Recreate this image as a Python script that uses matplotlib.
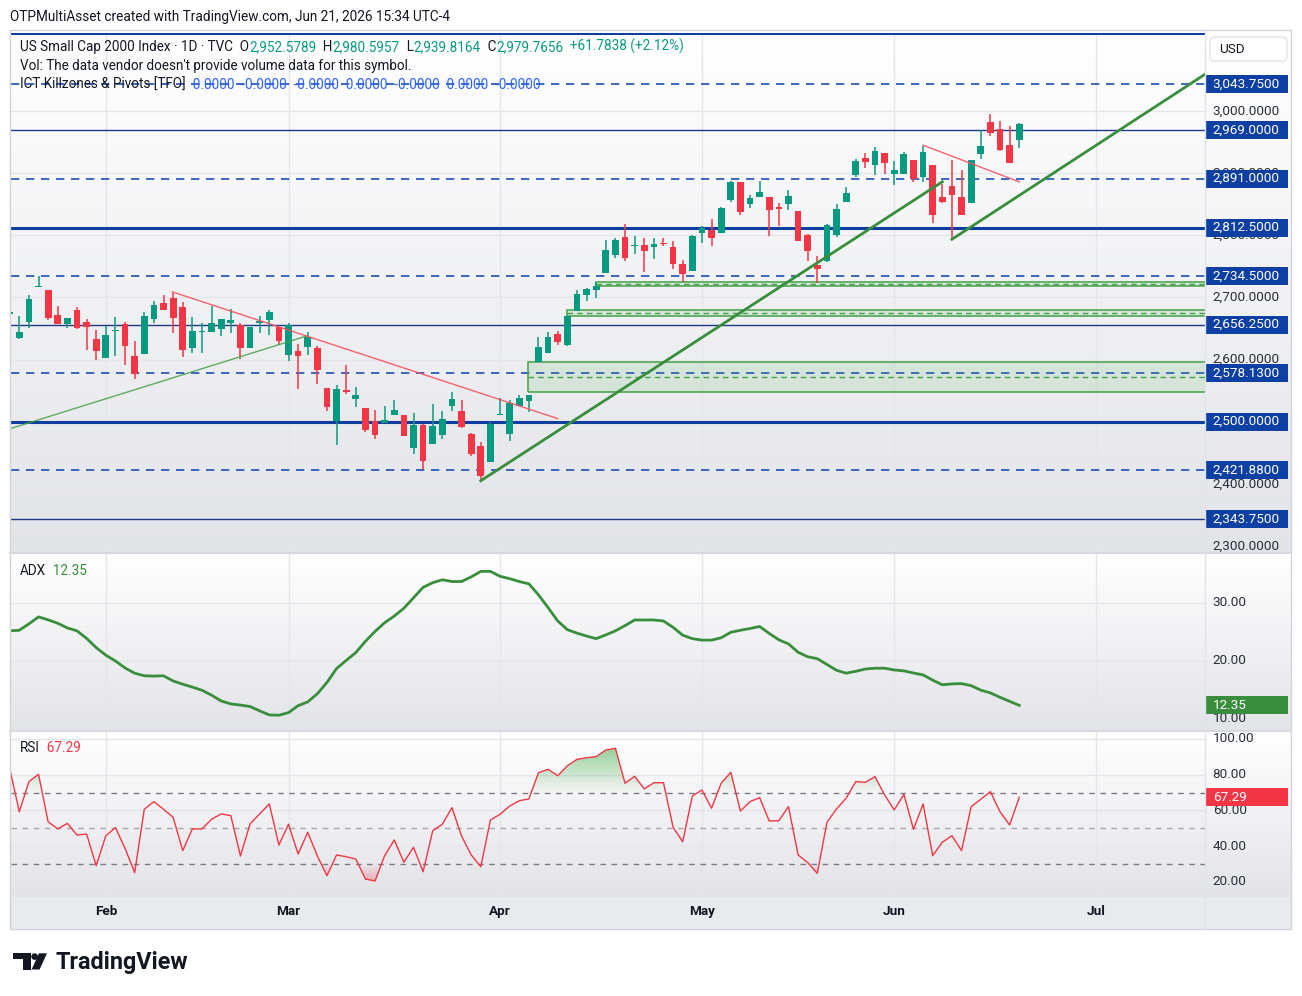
import numpy as np
import matplotlib
matplotlib.use("Agg")
import matplotlib.pyplot as plt
from matplotlib.colors import LinearSegmentedColormap, to_rgb
from matplotlib.patches import Rectangle, FancyBboxPatch, Circle, Polygon
from matplotlib.path import Path

plt.rcParams['font.family'] = ['Roboto', 'DejaVu Sans']

# x = trading-bar index, 0 = Jan 20 2026 (bar -1 is cut off at the left edge)
bars = np.arange(-1, 105)
month_names = ['Feb', 'Mar', 'Apr', 'May', 'Jun', 'Jul']
month_bars = [9, 28, 50, 71, 91, 112]

opens = [2674, 2635, 2661, 2717, 2712, 2672, 2658, 2680, 2660, 2633,
         2603, 2646, 2657, 2606, 2609, 2666, 2691, 2699, 2685, 2619,
         2644, 2645, 2649, 2659, 2655, 2619, 2659, 2664, 2652, 2608,
         2614, 2620, 2619, 2554, 2501, 2551, 2536, 2522, 2501, 2498,
         2511, 2511, 2458, 2495, 2464, 2479, 2525, 2517, 2480, 2461,
         2435, 2510, 2481, 2525, 2533, 2596, 2611, 2641, 2623, 2678,
         2704, 2712, 2740, 2768, 2797, 2782, 2784, 2781, 2788, 2781,
         2754, 2743, 2803, 2809, 2804, 2856, 2886, 2851, 2862, 2862,
         2846, 2851, 2839, 2801, 2752, 2759, 2801, 2854, 2897, 2924,
         2913, 2932, 2898, 2899, 2921, 2893, 2913, 2862, 2879, 2862,
         2852, 2930, 2982, 2971, 2945, 2952.58]
highs = [2680, 2670, 2704, 2734, 2712, 2686, 2667, 2685, 2665, 2648,
         2654, 2668, 2660, 2630, 2676, 2694, 2704, 2707, 2692, 2668,
         2659, 2686, 2665, 2681, 2659, 2652, 2670, 2679, 2652, 2659,
         2625, 2644, 2622, 2554, 2559, 2591, 2556, 2522, 2519, 2525,
         2535, 2511, 2514, 2496, 2528, 2517, 2548, 2535, 2482, 2467,
         2500, 2538, 2535, 2543, 2543, 2636, 2644, 2646, 2670, 2712,
         2715, 2725, 2792, 2796, 2818, 2799, 2796, 2796, 2796, 2791,
         2760, 2801, 2815, 2826, 2846, 2887, 2886, 2865, 2887, 2862,
         2852, 2873, 2839, 2802, 2766, 2818, 2850, 2878, 2923, 2932,
         2942, 2932, 2920, 2934, 2921, 2944, 2913, 2883, 2921, 2905,
         2921, 2969, 2995, 2984, 2976, 2980.60]
lows = [2668, 2633, 2651, 2716, 2664, 2658, 2651, 2649, 2615, 2599,
        2603, 2606, 2591, 2569, 2609, 2659, 2679, 2643, 2604, 2611,
        2611, 2645, 2638, 2642, 2601, 2619, 2643, 2640, 2623, 2597,
        2552, 2607, 2561, 2518, 2462, 2545, 2524, 2483, 2472, 2498,
        2511, 2477, 2448, 2422, 2464, 2472, 2517, 2490, 2444, 2405,
        2435, 2510, 2469, 2525, 2516, 2596, 2611, 2623, 2622, 2678,
        2694, 2699, 2740, 2764, 2759, 2770, 2741, 2762, 2782, 2746,
        2725, 2743, 2788, 2782, 2804, 2854, 2833, 2844, 2862, 2799,
        2815, 2840, 2791, 2758, 2723, 2757, 2798, 2854, 2893, 2909,
        2897, 2899, 2881, 2899, 2885, 2885, 2819, 2852, 2794, 2833,
        2852, 2922, 2960, 2936, 2917, 2939.82]
closes = [2677, 2645, 2697, 2718, 2667, 2658, 2667, 2651, 2653, 2613,
          2640, 2648, 2622, 2576, 2670, 2688, 2679, 2667, 2615, 2646,
          2646, 2659, 2665, 2664, 2619, 2652, 2662, 2676, 2630, 2655,
          2606, 2636, 2583, 2524, 2553, 2547, 2543, 2487, 2479, 2503,
          2519, 2477, 2495, 2437, 2493, 2504, 2537, 2492, 2448, 2413,
          2496, 2512, 2530, 2538, 2543, 2620, 2636, 2628, 2670, 2706,
          2714, 2718, 2776, 2792, 2764, 2784, 2774, 2786, 2786, 2754,
          2738, 2799, 2812, 2795, 2844, 2886, 2838, 2860, 2870, 2841,
          2843, 2863, 2791, 2774, 2746, 2817, 2842, 2868, 2920, 2918,
          2936, 2917, 2905, 2931, 2891, 2934, 2832, 2854, 2865, 2833,
          2921, 2944, 2964, 2938, 2917, 2979.77]

adx = [25.2, 25.3, 26.4, 27.6, 27.1, 26.5, 25.7, 25.2, 23.9, 22.3,
       21.0, 20.0, 18.8, 17.9, 17.45, 17.4, 17.45, 16.55, 16.0, 15.5,
       14.95, 14.1, 13.1, 12.6, 12.4, 12.15, 11.4, 10.7, 10.65, 11.1,
       12.3, 12.95, 14.35, 16.3, 18.7, 20.1, 21.45, 23.4, 25.1, 26.6,
       27.75, 29.1, 30.9, 32.7, 33.5, 34.0, 33.7, 33.7, 34.5, 35.45,
       35.45, 34.6, 34.2, 33.7, 33.3, 31.4, 29.2, 26.9, 25.4, 24.8,
       24.3, 23.85, 24.5, 25.2, 26.1, 27.07, 27.07, 27.07, 26.9, 25.8,
       24.45, 23.85, 23.6, 23.6, 24.0, 24.95, 25.3, 25.6, 25.95, 24.75,
       23.65, 22.95, 21.5, 20.73, 20.4, 19.4, 18.4, 17.9, 18.22, 18.62,
       18.75, 18.75, 18.45, 18.3, 17.93, 17.6, 16.7, 15.9, 16.05, 16.1,
       15.75, 14.97, 14.5, 13.74, 13.05, 12.35]
rsi = [83.6, 59.2, 76.1, 80.2, 53.6, 49.6, 52.7, 46.2, 46.7, 29.0,
       45.8, 50.3, 38.7, 25.1, 60.6, 64.9, 60.6, 56.1, 37.4, 49.6,
       49.6, 55.0, 58.0, 57.0, 34.4, 52.4, 58.0, 63.6, 40.6, 52.2,
       35.5, 47.7, 34.4, 23.4, 35.0, 34.0, 32.7, 21.5, 20.4, 34.6,
       43.4, 30.9, 39.3, 25.6, 48.6, 52.2, 61.5, 45.6, 35.0, 28.4,
       54.6, 57.8, 62.4, 65.4, 66.4, 81.1, 83.0, 79.4, 85.0, 88.6,
       89.5, 90.1, 93.8, 94.8, 75.2, 79.1, 72.0, 75.5, 75.5, 50.5,
       42.4, 68.0, 71.4, 61.2, 75.2, 81.3, 59.6, 64.9, 67.1, 54.0,
       54.2, 62.1, 35.0, 30.7, 24.7, 53.3, 60.8, 66.8, 76.1, 75.7,
       78.9, 68.6, 60.2, 69.0, 49.4, 63.6, 34.6, 42.1, 45.8, 37.4,
       62.1, 66.2, 70.5, 59.2, 51.8, 67.29]

levels_dashed = [3043.75, 2891.0, 2734.5, 2578.13, 2421.88]
levels_thick = [3125.0, 2812.5, 2500.0]
levels_thin = [2969.0, 2656.25, 2343.75]
level_labels = [3043.75, 2969.0, 2891.0, 2812.5, 2734.5, 2656.25, 2578.13, 2500.0, 2421.88, 2343.75]
price_ticks = [2300, 2400, 2500, 2600, 2700, 2800, 2900, 3000]

# drawn trend lines (bar0, price0, bar1, price1)
green_thin = (-0.9, 2489, 29.9, 2638)
red_long = (15.9, 2709, 56.0, 2505)
green_up1 = (48.0, 2405, 96.0, 2886)
green_up2 = (97.0, 2793.5, 130.0, 3126.5)
red_short = (94.0, 2945, 104.0, 2886)

# fair value gap boxes
fvg_start = [52.95, 57.0, 60.0]
fvg_low = [2547.3, 2669.6, 2718.9]
fvg_high = [2595.6, 2679.3, 2724.3]

GREEN = '#089981'
RED = '#f23645'
DARK = '#131722'
LVL = '#0e3fa3'
GRID = '#e4e6eb'

W, H = 1302, 996
fig = plt.figure(figsize=(W / 100, H / 100), dpi=100)
fig.patch.set_facecolor('white')


def box(x0, y0, x1, y1):
    return [x0 / W, 1 - y1 / H, (x1 - x0) / W, (y1 - y0) / H]


TOP, SEP1, SEP2, BOT = 33, 553, 731, 897
L, R, RR = 11, 1205, 1291

fig.add_artist(Rectangle((10 / W, 1 - 929 / H), 1281 / W, 32 / H, transform=fig.transFigure,
                         facecolor='#e9eaed', edgecolor='none', zorder=-2))

ax = fig.add_axes(box(L, TOP, R, SEP1))
ax_adx = fig.add_axes(box(L, SEP1, R, SEP2))
ax_rsi = fig.add_axes(box(L, SEP2, R, BOT))
axr = fig.add_axes(box(R, TOP, RR, SEP1))
axr_adx = fig.add_axes(box(R, SEP1, RR, SEP2))
axr_rsi = fig.add_axes(box(R, SEP2, RR, BOT))

panels = [(ax, axr, (2288.7, 3125.5)), (ax_adx, axr_adx, (7.93, 38.62)), (ax_rsi, axr_rsi, (11.43, 104.48))]
bg = LinearSegmentedColormap.from_list('bg', ['#ffffff', '#e3e4e8'])
for a, ar, yl in panels:
    for b in (a, ar):
        b.imshow(np.linspace(0, 1, 200).reshape(-1, 1), cmap=bg, extent=(0, 1, 0, 1),
                 transform=b.transAxes, aspect='auto', zorder=0, interpolation='bilinear')
        for s in b.spines.values():
            s.set_visible(False)
        b.set_xticks([])
        b.set_yticks([])
    for m in month_bars:
        a.axvline(m, color=GRID, lw=1, zorder=1)

x = bars.astype(float)
o, h, l, c = (np.array(v, dtype=float) for v in (opens, highs, lows, closes))

# ---- main price panel
for p in price_ticks:
    ax.axhline(p, color=GRID, lw=1, zorder=1)
for p in levels_dashed:
    ax.axhline(p, color='#1d4fb8', lw=1.2, ls=(0, (5, 4)), zorder=2)
for p in levels_thick:
    ax.axhline(p, color='#0f3f9e', lw=2.2, zorder=2)
for p in levels_thin:
    ax.axhline(p, color='#1e3a85', lw=1, zorder=2)

for s, lo, hi in zip(fvg_start, fvg_low, fvg_high):
    ax.add_patch(Rectangle((s, lo), 200, hi - lo, facecolor='#4caf50', alpha=0.14, edgecolor='none', zorder=2))
    ax.add_patch(Rectangle((s, lo), 200, hi - lo, facecolor='none', edgecolor='#43a047', lw=1.1, zorder=3))
    ax.plot([s, 200], [(lo + hi) / 2] * 2, color='#43a047', lw=1, ls=(0, (4, 3)), zorder=3)

up = c >= o
col = np.where(up, GREEN, RED)
ax.vlines(x, l, h, colors=col, lw=1.1, zorder=4)
ax.bar(x, np.maximum(np.abs(c - o), 1.3), bottom=np.minimum(o, c), width=0.7, color=col, lw=0, zorder=5)

ax.plot(green_thin[::2], green_thin[1::2], color='#43a047', lw=1, alpha=0.85, zorder=6)
ax.plot(red_long[::2], red_long[1::2], color='#f7525f', lw=1, alpha=0.9, zorder=6)
ax.plot(green_up1[::2], green_up1[1::2], color='#388e3c', lw=2, zorder=6)
ax.plot(green_up2[::2], green_up2[1::2], color='#388e3c', lw=2, zorder=6)
ax.plot(red_short[::2], red_short[1::2], color='#f7525f', lw=1, alpha=0.9, zorder=6)

# ---- ADX
for v in (10, 20, 30):
    ax_adx.axhline(v, color=GRID, lw=1, zorder=1)
ax_adx.plot(x, adx, color='#388e3c', lw=2, zorder=5)

# ---- RSI
r = np.array(rsi)
for v in (20, 40, 60, 80, 100):
    ax_rsi.axhline(v, color=GRID, lw=1, zorder=1)
ax_rsi.axhline(70, color='#787b86', lw=1, ls=(0, (4, 4)), zorder=2)
ax_rsi.axhline(50, color='#a3a6af', lw=1, ls=(0, (4, 4)), zorder=2)
ax_rsi.axhline(30, color='#787b86', lw=1, ls=(0, (4, 4)), zorder=2)


def grad_fill(a, base, far, color, above):
    coll = a.fill_between(x, base, r, where=(r >= base) if above else (r <= base),
                          interpolate=True, facecolor='none', edgecolor='none')
    paths = coll.get_paths()
    if not paths:
        return
    clip = Path.make_compound_path(*paths)
    img = np.zeros((128, 1, 4))
    img[..., :3] = to_rgb(color)
    img[:, 0, 3] = np.linspace(0.6, 0.0, 128) if above else np.linspace(0.0, 0.35, 128)
    lo, hi = (base, far) if above else (far, base)
    im = a.imshow(img, extent=(x.min(), x.max(), lo, hi), aspect='auto', zorder=3, interpolation='bilinear')
    im.set_clip_path(clip, transform=a.transData)


grad_fill(ax_rsi, 70, 96, '#4caf50', True)
grad_fill(ax_rsi, 30, 20, '#f23645', False)
ax_rsi.plot(x, r, color=RED, lw=1, zorder=5)

for a, ar, yl in panels:
    a.set_xlim(-0.863, 123.32)
    a.set_ylim(*yl)
    ar.set_xlim(0, 1)
    ar.set_ylim(*yl)

# ---- right-hand scales


def tag(ar, v, text, face):
    lo, hi = ar.get_ylim()
    hh = 9 * (hi - lo) / (ar.get_position().height * H)
    ar.add_patch(Rectangle((0.0, v - hh), 0.96, 2 * hh, facecolor=face, edgecolor='none', zorder=5))
    ar.text(0.09, v, text, color='white', fontsize=9.7, va='center', ha='left', zorder=6)


for p in price_ticks:
    axr.text(0.09, p, f'{p:,.4f}', color='#2a2e39', fontsize=9.7, va='center', ha='left', zorder=3)
for p in level_labels:
    tag(axr, p, f'{p:,.4f}', LVL)
for v in (10, 20, 30):
    axr_adx.text(0.09, v, f'{v:.2f}', color='#2a2e39', fontsize=9.7, va='center', ha='left', zorder=3)
tag(axr_adx, adx[-1], f'{adx[-1]:.2f}', '#388e3c')
for v in (20, 40, 60, 80, 100):
    axr_rsi.text(0.09, v, f'{v:.2f}', color='#2a2e39', fontsize=9.7, va='center', ha='left', zorder=3)
tag(axr_rsi, rsi[-1], f'{rsi[-1]:.2f}', RED)

for m, name in zip(month_bars, month_names):
    ax_rsi.text(m, -0.09, name, transform=ax_rsi.get_xaxis_transform(), ha='center', va='center',
                fontsize=9.7, fontweight='bold', color=DARK)

# ---- overlay in pixel coordinates (texts, frame, logo)
ov = fig.add_axes([0, 0, 1, 1])
ov.set_xlim(0, W)
ov.set_ylim(H, 0)
ov.axis('off')

for yy in (SEP1, SEP2):
    ov.plot([10, RR], [yy, yy], color='#d6d9e0', lw=1.5)
ov.plot([R, R], [30, 929], color='#e0e3eb', lw=1)
ov.add_patch(Rectangle((10, 30), 1281, 899, fill=False, edgecolor='#d1d4dc', lw=1))
ov.add_patch(FancyBboxPatch((1210, 37), 77, 24, boxstyle='round,pad=0,rounding_size=5',
                            facecolor='white', edgecolor='#e0e3eb', lw=1))
ov.text(1219, 49, 'USD', fontsize=9.7, color=DARK, va='center')

ov.text(10, 17, 'OTPMultiAsset created with TradingView.com, Jun 21, 2026 15:34 UTC-4',
        fontsize=9.8, color=DARK, va='center')


def chain(x0, y0, parts, size=9.75):
    t = ov.text(x0, y0, parts[0][0], color=parts[0][1], fontsize=size, va='center', ha='left')
    for s, cl in parts[1:]:
        t = ov.annotate(s, xy=(1, 0), xycoords=t, color=cl, fontsize=size, va='bottom', ha='left',
                        annotation_clip=False)


chain(20, 47, [('US Small Cap 2000 Index · 1D · TVC', DARK), ('  O', DARK), ('2,952.5789', GREEN),
               ('  H', DARK), ('2,980.5957', GREEN), ('  L', DARK), ('2,939.8164', GREEN),
               ('  C', DARK), ('2,979.7656', GREEN), ('  +61.7838 (+2.12%)', GREEN)])
chain(20, 66, [("Vol: The data vendor doesn't provide volume data for this symbol.", DARK)])
chain(20, 85, [('ICT Killzones & Pivots [TFO]', DARK),
               ('  0.0000  -0.0000  -0.0000  0.0000  -0.0000  0.0000  -0.0000', '#2962ff')])
chain(20, 571, [('ADX', DARK), ('  12.35', '#388e3c')])
chain(20, 748, [('RSI', DARK), ('  67.29', RED)])

# TradingView logo
ov.add_patch(Polygon([(13.3, 953.3), (30.7, 953.3), (30.7, 969.5), (22.7, 969.5), (22.7, 959.3), (13.3, 959.3)],
                     closed=True, facecolor=DARK, edgecolor='none'))
ov.add_patch(Circle((34.6, 956.6), 3.3, facecolor=DARK, edgecolor='none'))
ov.add_patch(Polygon([(39.0, 953.3), (47.0, 953.3), (39.6, 969.5), (31.6, 969.5)],
                     closed=True, facecolor=DARK, edgecolor='none'))
ov.text(55, 962, 'TradingView', fontsize=16.8, fontweight='bold', color=DARK, va='center', ha='left')

fig.savefig('out.png', dpi=100, facecolor='white')
